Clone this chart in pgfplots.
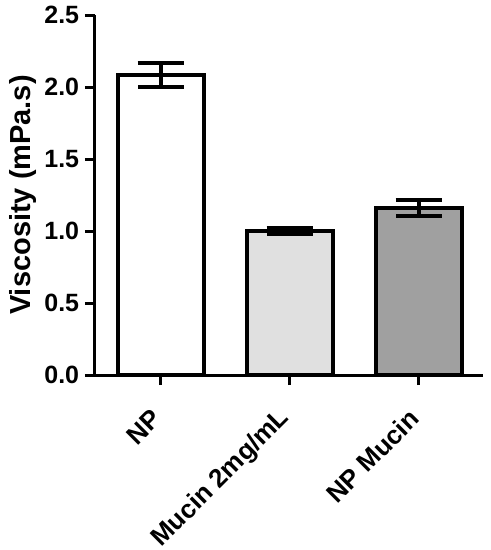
\documentclass[border=0pt]{standalone}
\usepackage{pgfplots}
\pgfplotsset{compat=1.18}
\usepackage{fontspec}
\setmainfont{Liberation Sans}
\definecolor{lgray}{HTML}{E0E0E0}
\definecolor{dgray}{HTML}{A0A0A0}
\begin{document}
\begin{tikzpicture}
\useasboundingbox (-57pt,-105pt) rectangle (237.6pt,225pt);
\begin{axis}[
  anchor=south west, at={(0,0)},
  width=232.8pt, height=216pt, scale only axis,
  xmin=-0.51, xmax=2.5, ymin=0, ymax=2.5,
  clip=false,
  axis x line*=bottom, axis y line*=left,
  axis line style={line width=1.8pt, -},
  ytick={0,0.5,1,1.5,2,2.5},
  xtick={0,1,2},
  xticklabels={NP, Mucin 2mg/mL, NP Mucin},
  yticklabel style={/pgf/number format/.cd, fixed, fixed zerofill, precision=1, assume math mode=true},
  tick label style={font=\fontsize{15}{18}\selectfont\bfseries},
  xticklabel style={font=\fontsize{15.6}{19}\selectfont\bfseries, xshift=0pt, yshift=-15pt, rotate=45, anchor=east},
  tick align=outside,
  major tick length=6pt,
  major tick style={line width=1.8pt, black},
  ylabel={Viscosity (mPa.s)},
  ylabel style={font=\fontsize{17.4}{20}\selectfont\bfseries, yshift=-2pt},
]
\addplot[ybar, bar width=51.6pt, bar shift=0pt, fill=white, draw=black, line width=2.4pt,
  error bars/.cd, y dir=both, y explicit,
  error bar style={line width=2.4pt, black},
  error mark options={rotate=90, line width=2.4pt, mark size=13.8pt, black}]
  coordinates {(0,2.083) +- (0,0.085)};
\addplot[ybar, bar width=51.6pt, bar shift=0pt, fill=lgray, draw=black, line width=2.4pt,
  error bars/.cd, y dir=both, y explicit,
  error bar style={line width=2.4pt, black},
  error mark options={rotate=90, line width=2.4pt, mark size=13.8pt, black}]
  coordinates {(1,1.0) +- (0,0.02)};
\addplot[ybar, bar width=51.6pt, bar shift=0pt, fill=dgray, draw=black, line width=2.4pt,
  error bars/.cd, y dir=both, y explicit,
  error bar style={line width=2.4pt, black},
  error mark options={rotate=90, line width=2.4pt, mark size=13.8pt, black}]
  coordinates {(2,1.16) +- (0,0.055)};
\end{axis}
\end{tikzpicture}
\end{document}
